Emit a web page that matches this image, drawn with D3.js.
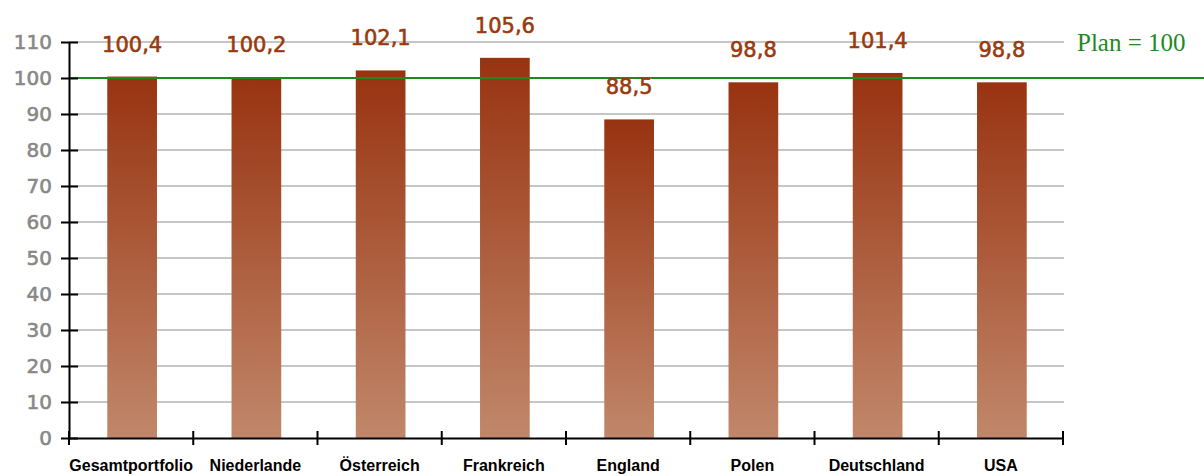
<!DOCTYPE html>
<html>
<head>
<meta charset="utf-8">
<script src="https://cdn.jsdelivr.net/npm/d3@7"></script>
<style>
  body { margin: 0; background: #fff; }
</style>
</head>
<body>
<div id="chart"></div>
<script>
// chart data
const categories = ["Gesamtportfolio", "Niederlande", "Österreich", "Frankreich", "England", "Polen", "Deutschland", "USA"];
const values = [100.4, 100.2, 102.1, 105.6, 88.5, 98.8, 101.4, 98.8];
const yTicks = [0, 10, 20, 30, 40, 50, 60, 70, 80, 90, 100, 110];
const planValue = 100;
const planLabel = "Plan = 100";

const W = 1204, H = 476;

const svg = d3.select("#chart")
  .append("svg")
    .attr("width", W)
    .attr("height", H);

// gradient for the bars (dark on top, lighter below)
const grad = svg.append("defs").append("linearGradient")
    .attr("id", "barGrad")
    .attr("x1", 0).attr("y1", 0).attr("x2", 0).attr("y2", 1);
grad.append("stop").attr("offset", "0%").attr("stop-color", "#983310");
grad.append("stop").attr("offset", "100%").attr("stop-color", "#c1876a");

// Scales
const x = d3.scaleBand()
    .domain(categories)
    .range([69, 1063])
    .paddingInner(0)
    .paddingOuter(0);

const y = d3.scaleLinear()
    .domain([0, 110])
    .range([438, 42]);

const barW = x.bandwidth() * 0.4;

// grid lines
svg.append("g")
  .selectAll("line")
  .data(yTicks.filter(d => d > 0))
  .join("line")
    .attr("x1", 69)
    .attr("x2", 1064)
    .attr("y1", d => y(d))
    .attr("y2", d => y(d))
    .attr("stroke", "#c6c6c6")
    .attr("stroke-width", 2);

// bars
svg.append("g")
  .selectAll("rect")
  .data(values)
  .join("rect")
    .attr("x", (d, i) => x(categories[i]) + x.bandwidth() / 2 - barW / 2 + 1)
    .attr("y", d => y(d))
    .attr("width", barW)
    .attr("height", d => y(0) - y(d))
    .attr("fill", "url(#barGrad)");

// plan line
svg.append("line")
    .attr("x1", 69)
    .attr("x2", W)
    .attr("y1", y(planValue))
    .attr("y2", y(planValue))
    .attr("stroke", "#1e8a1e")
    .attr("stroke-width", 2);

svg.append("text")
    .attr("x", 1077)
    .attr("y", 51)
    .attr("fill", "#1e8a1e")
    .style("font-family", "'Liberation Serif', 'Times New Roman', serif")
    .style("font-size", "25px")
    .text(planLabel);

// Y axis
const yAxis = svg.append("g")
    .attr("transform", "translate(69,0)")
    .call(d3.axisLeft(y).tickValues(yTicks).tickSize(0).tickPadding(17));
yAxis.select(".domain").attr("stroke", "#000").attr("stroke-width", 2);
yAxis.selectAll(".tick text")
    .attr("fill", "#888")
    .attr("stroke", "#888")
    .attr("stroke-width", 0.6)
    .style("font-family", "'DejaVu Sans', sans-serif")
    .style("font-size", "20px");
yAxis.selectAll(".tick")
  .append("line")
    .attr("x1", -8).attr("x2", 9)
    .attr("stroke", "#000")
    .attr("stroke-width", 2);

// X axis
const xAxis = svg.append("g")
    .attr("transform", `translate(0,${y(0)})`)
    .call(d3.axisBottom(x).tickSize(0).tickPadding(22));
xAxis.select(".domain").attr("stroke", "#000").attr("stroke-width", 2);
xAxis.selectAll(".tick text")
    .attr("fill", "#000")
    .style("font-family", "'Liberation Sans', Arial, sans-serif")
    .style("font-weight", "bold")
    .style("font-size", "16px");

// category boundary ticks
svg.append("g")
  .selectAll("line")
  .data(categories.concat([null]))
  .join("line")
    .attr("x1", (d, i) => i < categories.length ? x(d) : x.range()[1])
    .attr("x2", (d, i) => i < categories.length ? x(d) : x.range()[1])
    .attr("y1", y(0) - 7)
    .attr("y2", y(0) + 7)
    .attr("stroke", "#000")
    .attr("stroke-width", 2);

// value labels
svg.append("g")
  .selectAll("text")
  .data(values)
  .join("text")
    .attr("x", (d, i) => x(categories[i]) + x.bandwidth() / 2 + 1)
    .attr("y", d => y(d) - 25)
    .attr("text-anchor", "middle")
    .attr("fill", "#993a0e")
    .attr("stroke", "#993a0e")
    .attr("stroke-width", 0.6)
    .style("font-family", "'DejaVu Sans', sans-serif")
    .style("font-size", "21px")
    .text(d => d3.format(".1f")(d).replace(".", ","));
</script>
</body>
</html>
